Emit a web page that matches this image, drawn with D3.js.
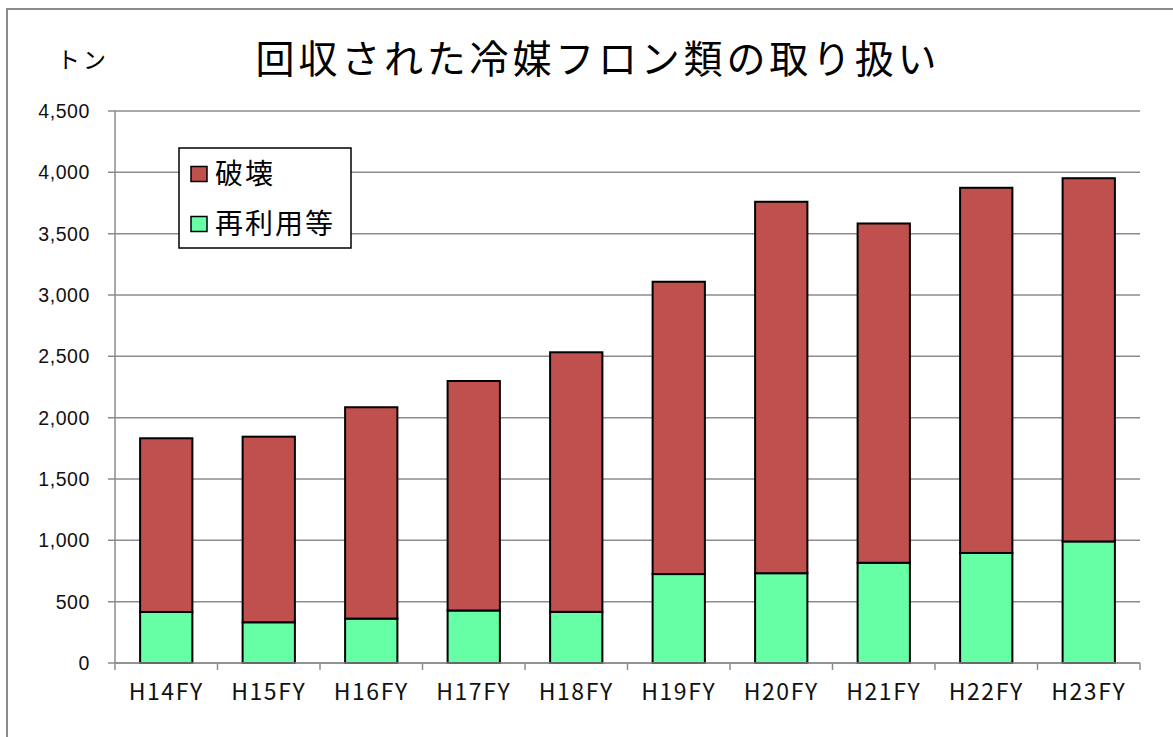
<!DOCTYPE html>
<html>

<head>
    <meta charset="utf-8">
    <title>回収された冷媒フロン類の取り扱い</title>
    <style>
        body {
            margin: 0;
            background: #fff;
        }

        .cjk {
            font-family: 'Noto Sans CJK JP', sans-serif;
        }
    </style>
    <script src="https://cdnjs.cloudflare.com/ajax/libs/d3/7.8.5/d3.min.js"></script>
</head>

<body>
    <div id="my-svg-chart"></div>
    <script>
        // data (tonnes)
        const years = ['H14FY', 'H15FY', 'H16FY', 'H17FY', 'H18FY', 'H19FY', 'H20FY', 'H21FY', 'H22FY', 'H23FY'];
        const reuse = [416, 332, 362, 428, 417, 725, 732, 817, 897, 991];
        const destroyed = [1416, 1513, 1723, 1871, 2116, 2383, 3028, 2766, 2977, 2961];
        const yTicks = [0, 500, 1000, 1500, 2000, 2500, 3000, 3500, 4000, 4500];

        const seriesNames = ['再利用等', '破壊'];
        const seriesColors = ['#66FFA6', '#C0504D'];

        const width = 1173, height = 737;
        const margin = { top: 111, right: 33, bottom: 74, left: 115 };

        const svg = d3.select('#my-svg-chart')
            .append('svg')
            .attr('width', width)
            .attr('height', height);

        // outer chart frame (runs off the right/bottom edge)
        svg.append('rect')
            .attr('x', 7)
            .attr('y', 9)
            .attr('width', 1200)
            .attr('height', 800)
            .attr('fill', 'none')
            .attr('stroke', '#8c8c8c')
            .attr('stroke-width', 2);

        const x = d3.scaleBand()
            .domain(years)
            .range([margin.left, width - margin.right])
            .paddingInner(0.49)
            .paddingOuter(0.245);

        const y = d3.scaleLinear()
            .domain([0, 4500])
            .range([height - margin.bottom, margin.top]);

        // gridlines
        svg.append('g')
            .selectAll('line')
            .data(yTicks)
            .join('line')
            .attr('x1', margin.left - 7)
            .attr('x2', width - margin.right)
            .attr('y1', d => y(d))
            .attr('y2', d => y(d))
            .attr('stroke', '#8c8c8c')
            .attr('stroke-width', 1.5);

        // y axis line
        svg.append('line')
            .attr('x1', margin.left)
            .attr('x2', margin.left)
            .attr('y1', y(4500))
            .attr('y2', y(0))
            .attr('stroke', '#8c8c8c')
            .attr('stroke-width', 1.5);

        // y labels
        svg.append('g')
            .selectAll('text')
            .data(yTicks)
            .join('text')
            .attr('x', 90)
            .attr('y', d => y(d))
            .attr('dy', '0.36em')
            .attr('text-anchor', 'end')
            .style('font-family', "'Liberation Sans', Arial, sans-serif")
            .style('font-size', '19.5px')
            .style('letter-spacing', '0.6px')
            .attr('fill', '#111')
            .text(d => d3.format(',')(d));

        // x tick marks at category boundaries
        const bounds = d3.range(years.length + 1).map(i => x.range()[0] + i * x.step());
        svg.append('g')
            .selectAll('line')
            .data(bounds)
            .join('line')
            .attr('x1', d => d)
            .attr('x2', d => d)
            .attr('y1', y(0))
            .attr('y2', y(0) + 7)
            .attr('stroke', '#8c8c8c')
            .attr('stroke-width', 1.5);

        // stacked bars
        const rows = years.map((yr, i) => ({ year: yr, reuse: reuse[i], destroyed: destroyed[i] }));
        const stack = d3.stack().keys(['reuse', 'destroyed'])(rows);

        svg.append('g')
            .selectAll('g')
            .data(stack)
            .join('g')
            .attr('fill', (d, i) => seriesColors[i])
            .selectAll('rect')
            .data(d => d)
            .join('rect')
            .attr('x', d => x(d.data.year))
            .attr('y', d => y(d[1]))
            .attr('width', x.bandwidth())
            .attr('height', d => y(d[0]) - y(d[1]))
            .attr('stroke', '#000')
            .attr('stroke-width', 2);

        // bottom axis line over bar bases
        svg.append('line')
            .attr('x1', margin.left)
            .attr('x2', width - margin.right)
            .attr('y1', y(0))
            .attr('y2', y(0))
            .attr('stroke', '#8c8c8c')
            .attr('stroke-width', 1.5);

        // x labels
        svg.append('g')
            .selectAll('text')
            .data(years)
            .join('text')
            .attr('class', 'cjk')
            .attr('x', d => x(d) + x.bandwidth() / 2)
            .attr('y', 692)
            .attr('dy', '0.36em')
            .attr('text-anchor', 'middle')
            .style('font-size', '23px')
            .style('letter-spacing', '1.6px')
            .attr('fill', '#111')
            .text(d => d);

        // title
        svg.append('text')
            .attr('class', 'cjk')
            .attr('x', 598)
            .attr('y', 59)
            .attr('dy', '0.36em')
            .attr('text-anchor', 'middle')
            .style('font-size', '39px')
            .style('letter-spacing', '3.8px')
            .attr('fill', '#000')
            .text('回収された冷媒フロン類の取り扱い');

        // unit label
        svg.append('text')
            .attr('class', 'cjk')
            .attr('x', 57)
            .attr('y', 60)
            .attr('dy', '0.36em')
            .style('font-size', '23px')
            .style('letter-spacing', '3px')
            .attr('fill', '#000')
            .text('トン');

        // legend
        const legend = svg.append('g');
        legend.append('rect')
            .attr('x', 179)
            .attr('y', 148)
            .attr('width', 172)
            .attr('height', 100)
            .attr('fill', '#fff')
            .attr('stroke', '#000')
            .attr('stroke-width', 1.5);

        const legendData = [
            { label: seriesNames[1], color: seriesColors[1] },
            { label: seriesNames[0], color: seriesColors[0] }
        ];

        const item = legend.selectAll('.legend')
            .data(legendData)
            .join('g')
            .attr('class', 'legend')
            .attr('transform', (d, i) => `translate(0, ${174 + i * 50})`);

        item.append('rect')
            .attr('x', 191)
            .attr('y', -7.5)
            .attr('width', 16)
            .attr('height', 15)
            .attr('fill', d => d.color)
            .attr('stroke', '#000')
            .attr('stroke-width', 1.5);

        item.append('text')
            .attr('class', 'cjk')
            .attr('x', 215)
            .attr('y', 0)
            .attr('dy', '0.36em')
            .style('font-size', '28px')
            .style('letter-spacing', '2px')
            .attr('fill', '#000')
            .text(d => d.label);
    </script>
</body>

</html>
